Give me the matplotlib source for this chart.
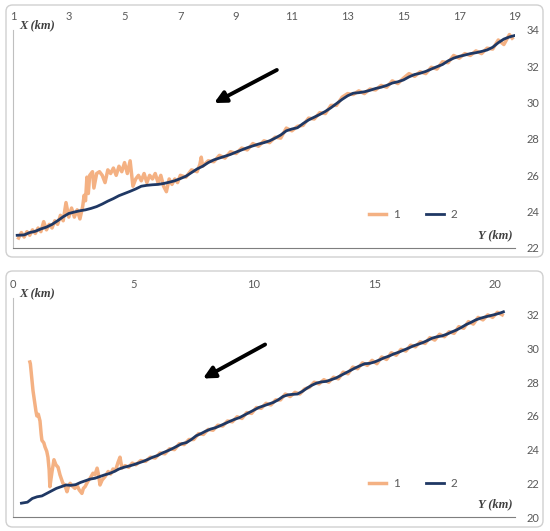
"""
Two track plots: estimated position (1) vs reference track (2)
"""
import matplotlib
matplotlib.use("Agg")
import matplotlib.pyplot as plt
from matplotlib.patches import FancyBboxPatch

# ---- top panel data (Y km, X km) ----
top_y2 = [1.15, 1.4, 1.6, 1.8, 2.0, 2.2, 2.4, 2.6, 2.8, 3.0, 3.2, 3.4, 3.6, 3.8, 4.0, 4.2, 4.4, 4.6, 4.8, 5.0,
          5.2, 5.4, 5.6, 5.8, 6.0, 6.2, 6.4, 6.6, 6.8, 7.0, 7.2, 7.4, 7.6, 7.8, 8.0, 8.2, 8.4, 8.6, 8.8, 9.0,
          9.2, 9.4, 9.6, 9.8, 10.0, 10.2, 10.4, 10.6, 10.8, 11.0, 11.2, 11.4, 11.6, 11.8, 12.0, 12.2, 12.4,
          12.6, 12.8, 13.0, 13.2, 13.4, 13.6, 13.8, 14.0, 14.2, 14.4, 14.6, 14.8, 15.0, 15.2, 15.4, 15.6,
          15.8, 16.0, 16.2, 16.4, 16.6, 16.8, 17.0, 17.2, 17.4, 17.6, 17.8, 18.0, 18.2, 18.4, 18.6, 18.8, 19.0]
top_x2 = [22.70, 22.72, 22.85, 22.92, 23.05, 23.15, 23.30, 23.50, 23.72, 23.90, 23.98, 24.05, 24.10, 24.18,
          24.28, 24.42, 24.58, 24.72, 24.88, 25.00, 25.12, 25.25, 25.40, 25.45, 25.48, 25.50, 25.55, 25.62,
          25.70, 25.82, 25.95, 26.15, 26.35, 26.50, 26.70, 26.85, 26.95, 27.05, 27.15, 27.28, 27.40, 27.52,
          27.62, 27.72, 27.80, 27.90, 28.05, 28.22, 28.45, 28.55, 28.62, 28.85, 29.05, 29.20, 29.35, 29.52,
          29.72, 29.95, 30.18, 30.38, 30.52, 30.55, 30.60, 30.68, 30.78, 30.85, 30.95, 31.08, 31.15, 31.25,
          31.42, 31.55, 31.62, 31.72, 31.85, 31.98, 32.10, 32.30, 32.45, 32.55, 32.62, 32.70, 32.75, 32.82,
          32.90, 33.05, 33.30, 33.50, 33.62, 33.70]

top_y1 = [1.2, 1.3, 1.4, 1.5, 1.6, 1.7, 1.8, 1.9, 2.0, 2.1, 2.2, 2.3, 2.4, 2.5, 2.6, 2.7, 2.8, 2.9, 3.0, 3.1,
          3.2, 3.3, 3.4, 3.5, 3.55, 3.6, 3.65, 3.7, 3.75, 3.85, 3.9, 4.0, 4.1, 4.2, 4.3, 4.4, 4.5, 4.6, 4.7,
          4.8, 4.9, 5.0, 5.1, 5.2, 5.3, 5.4, 5.5, 5.6, 5.7, 5.8, 5.9, 6.0, 6.1, 6.2, 6.3, 6.4, 6.5, 6.6, 6.7,
          6.8, 6.9, 7.0, 7.2, 7.4, 7.6, 7.7, 7.75, 7.8, 8.0, 8.2, 8.4, 8.6, 8.8, 9.0, 9.2, 9.4, 9.6, 9.8,
          10.0, 10.2, 10.4, 10.6, 10.8, 11.0, 11.2, 11.4, 11.6, 11.8, 12.0, 12.2, 12.4, 12.6, 12.8, 13.0,
          13.2, 13.4, 13.6, 13.8, 14.0, 14.2, 14.4, 14.6, 14.8, 15.0, 15.2, 15.4, 15.6, 15.8, 16.0, 16.2,
          16.4, 16.6, 16.8, 17.0, 17.2, 17.4, 17.6, 17.8, 18.0, 18.2, 18.4, 18.6, 18.8, 18.9]
top_x1 = [22.55, 22.85, 22.6, 22.9, 22.7, 23.0, 22.8, 23.1, 22.9, 23.45, 23.0, 23.3, 23.1, 23.5, 23.3, 23.8,
          23.5, 24.5, 23.7, 24.2, 23.7, 24.1, 23.6, 24.3, 24.9, 24.6, 25.9, 25.0, 26.0, 26.2, 25.3, 26.1,
          26.2, 26.0, 25.6, 26.3, 26.1, 26.4, 26.0, 26.5, 26.2, 26.7, 26.1, 26.8, 25.4, 25.8, 26.0, 25.7,
          26.1, 25.6, 26.0, 25.8, 26.1, 25.6, 26.0, 25.4, 25.1, 25.8, 25.5, 25.8, 25.6, 26.0, 25.9, 26.3,
          26.2, 26.6, 27.0, 26.5, 26.8, 26.75, 27.1, 26.95, 27.3, 27.2, 27.5, 27.4, 27.75, 27.6, 27.9, 27.8,
          28.1, 28.05, 28.6, 28.45, 28.7, 28.75, 29.15, 29.1, 29.45, 29.4, 29.85, 29.85, 30.3, 30.5, 30.45,
          30.65, 30.5, 30.75, 30.7, 30.95, 30.85, 31.2, 31.05, 31.35, 31.6, 31.45, 31.7, 31.6, 31.95, 31.85,
          32.25, 32.2, 32.6, 32.45, 32.7, 32.6, 32.85, 32.7, 33.0, 32.95, 33.45, 33.2, 33.75, 33.55]

# ---- bottom panel data ----
bot_y2 = [0.35, 0.6, 0.8, 1.0, 1.2, 1.4, 1.6, 1.8, 2.0, 2.2, 2.4, 2.6, 2.8, 3.0, 3.2, 3.4, 3.6, 3.8, 4.0, 4.2,
          4.4, 4.6, 4.8, 5.0, 5.2, 5.4, 5.6, 5.8, 6.0, 6.2, 6.4, 6.6, 6.8, 7.0, 7.2, 7.4, 7.6, 7.8, 8.0, 8.2,
          8.4, 8.6, 8.8, 9.0, 9.2, 9.4, 9.6, 9.8, 10.0, 10.2, 10.4, 10.6, 10.8, 11.0, 11.2, 11.4, 11.6, 11.8,
          12.0, 12.2, 12.4, 12.6, 12.8, 13.0, 13.2, 13.4, 13.6, 13.8, 14.0, 14.2, 14.4, 14.6, 14.8, 15.0,
          15.2, 15.4, 15.6, 15.8, 16.0, 16.2, 16.4, 16.6, 16.8, 17.0, 17.2, 17.4, 17.6, 17.8, 18.0, 18.2,
          18.4, 18.6, 18.8, 19.0, 19.2, 19.4, 19.6, 19.8, 20.0, 20.2, 20.35]
bot_x2 = [20.82, 20.88, 21.1, 21.2, 21.25, 21.4, 21.55, 21.7, 21.8, 21.9, 21.88, 21.92, 22.05, 22.15, 22.25,
          22.3, 22.4, 22.5, 22.58, 22.7, 22.85, 22.95, 23.02, 23.1, 23.2, 23.3, 23.42, 23.55, 23.65, 23.8,
          23.92, 24.05, 24.2, 24.35, 24.42, 24.6, 24.82, 24.95, 25.1, 25.22, 25.3, 25.42, 25.55, 25.68, 25.8,
          25.9, 26.05, 26.2, 26.35, 26.5, 26.6, 26.7, 26.8, 26.95, 27.15, 27.25, 27.28, 27.3, 27.45, 27.65,
          27.82, 27.95, 28.02, 28.05, 28.15, 28.25, 28.4, 28.55, 28.7, 28.85, 28.98, 29.1, 29.12, 29.2, 29.32,
          29.45, 29.55, 29.68, 29.78, 29.9, 30.02, 30.15, 30.25, 30.35, 30.48, 30.62, 30.7, 30.75, 30.85,
          30.98, 31.1, 31.25, 31.42, 31.55, 31.7, 31.8, 31.88, 31.95, 32.02, 32.1, 32.18]

bot_y1 = [0.7, 0.72, 0.78, 0.83, 0.9, 0.95, 0.99, 1.05, 1.12, 1.17, 1.2, 1.28, 1.33, 1.4, 1.45, 1.5, 1.53,
          1.58, 1.62, 1.7, 1.78, 1.87, 1.95, 2.07, 2.15, 2.24, 2.3, 2.37, 2.45, 2.57, 2.65, 2.75, 2.86, 2.92,
          2.99, 3.1, 3.2, 3.32, 3.4, 3.49, 3.55, 3.61, 3.7, 3.82, 3.95, 4.05, 4.15, 4.25, 4.36, 4.44, 4.52,
          4.65, 4.8, 4.95, 5.1, 5.3, 5.5, 5.7, 5.9, 6.1, 6.3, 6.5, 6.7, 6.9, 7.1, 7.3, 7.5, 7.7, 7.9, 8.1,
          8.3, 8.5, 8.7, 8.9, 9.1, 9.3, 9.5, 9.7, 9.9, 10.1, 10.3, 10.5, 10.7, 10.9, 11.1, 11.3, 11.5, 11.7,
          11.9, 12.1, 12.3, 12.5, 12.7, 12.9, 13.1, 13.3, 13.5, 13.7, 13.9, 14.1, 14.3, 14.5, 14.7, 14.9,
          15.1, 15.3, 15.5, 15.7, 15.9, 16.1, 16.3, 16.5, 16.7, 16.9, 17.1, 17.3, 17.5, 17.7, 17.9, 18.1,
          18.3, 18.5, 18.7, 18.9, 19.1, 19.3, 19.5, 19.7, 19.9, 20.1, 20.3]
bot_x1 = [29.2, 29.1, 28.2, 27.5, 26.8, 26.3, 26.0, 26.1, 25.7, 24.9, 24.55, 24.4, 24.15, 23.9, 23.55, 22.8,
          21.8, 22.3, 22.7, 23.4, 23.1, 22.95, 22.5, 22.0, 21.9, 21.5, 21.8, 22.0, 21.85, 21.7, 21.9, 21.6,
          21.4, 21.7, 21.8, 22.1, 22.3, 22.6, 22.5, 22.9, 22.5, 21.9, 22.2, 22.4, 22.7, 22.55, 22.85, 22.75,
          23.25, 23.55, 22.9, 23.05, 22.95, 23.2, 23.1, 23.35, 23.3, 23.55, 23.5, 23.8, 23.75, 24.05, 24.0,
          24.35, 24.3, 24.6, 24.6, 24.95, 24.9, 25.2, 25.15, 25.45, 25.4, 25.7, 25.65, 25.95, 25.85, 26.2,
          26.15, 26.5, 26.45, 26.75, 26.65, 26.95, 26.95, 27.3, 27.15, 27.4, 27.3, 27.6, 27.7, 28.0, 27.9,
          28.15, 28.0, 28.3, 28.2, 28.6, 28.5, 28.9, 28.8, 29.15, 29.0, 29.3, 29.1, 29.5, 29.35, 29.75, 29.6,
          29.95, 29.85, 30.2, 30.1, 30.4, 30.3, 30.65, 30.5, 30.85, 30.7, 31.0, 30.9, 31.3, 31.2, 31.6, 31.45,
          31.85, 31.7, 32.0, 31.85, 32.15, 32.0]

top_xticks = [1, 3, 5, 7, 9, 11, 13, 15, 17, 19]
top_yticks = [22, 24, 26, 28, 30, 32, 34]
bot_xticks = [0, 5, 10, 15, 20]
bot_yticks = [20, 22, 24, 26, 28, 30, 32]

c_orange = "#f4b183"
c_navy = "#1f3864"
c_tick = "#595959"

W, H = 550, 531
fig = plt.figure(figsize=(W / 100, H / 100), dpi=100)

# rounded frames around each panel
for y0, y1 in [(5, 257), (271, 527)]:
    fig.patches.append(FancyBboxPatch(
        (6 / W, 1 - y1 / H), 537 / W, (y1 - y0) / H,
        boxstyle="round,pad=0,rounding_size=0.012",
        transform=fig.transFigure, facecolor="none", edgecolor="#d0d0d0", lw=1.0, zorder=-1))


def track_panel(rect, y1, x1, y2, x2, xlim, ylim, xticks, yticks, arrow_from, arrow_to):
    ax = fig.add_axes(rect)
    ax.set_facecolor("none")
    ax.plot(y1, x1, color=c_orange, lw=2.5, solid_joinstyle="round", label="1")
    ax.plot(y2, x2, color=c_navy, lw=2.0, solid_joinstyle="round", label="2")
    ax.set_xlim(*xlim)
    ax.set_ylim(*ylim)
    ax.set_xticks(xticks)
    ax.set_yticks(yticks)
    ax.xaxis.tick_top()
    ax.yaxis.tick_right()
    ax.tick_params(axis="x", length=0, pad=6, labelsize=8, labelcolor=c_tick)
    ax.tick_params(axis="y", length=0, pad=8, labelsize=8, labelcolor=c_tick)
    for lab in ax.get_xticklabels() + ax.get_yticklabels():
        lab.set_family("Lato")
    ax.spines["top"].set_visible(False)
    ax.spines["right"].set_visible(False)
    ax.spines["left"].set_color("#bfbfbf")
    ax.spines["bottom"].set_color("#7f7f7f")
    ax.text(0.012, 1.05, "X (km)", transform=ax.transAxes, family="Liberation Serif",
            style="italic", weight="bold", fontsize=9, color="#404040", va="top", ha="left")
    ax.text(0.995, 0.03, "Y (km)", transform=ax.transAxes, family="Liberation Serif",
            style="italic", weight="bold", fontsize=9, color="#404040", va="bottom", ha="right")
    ax.annotate("", xy=arrow_to, xytext=arrow_from,
                arrowprops=dict(arrowstyle="-|>,head_length=0.7,head_width=0.35", lw=2.8,
                                color="black", shrinkA=0, shrinkB=0))
    leg = ax.legend(loc="center", bbox_to_anchor=(0.797, 0.152), ncol=2, frameon=False,
                    handlelength=1.5, handletextpad=0.6, columnspacing=2.2,
                    prop={"family": "Lato", "size": 8.5})
    for t in leg.get_texts():
        t.set_color(c_tick)
    return ax


track_panel([13 / W, 1 - 248 / H, 502 / W, 218 / H], top_y1, top_x1, top_y2, top_x2,
            (1, 19), (22, 34), top_xticks, top_yticks, (10.46, 31.8), (8.21, 29.98))
track_panel([13 / W, 1 - 517 / H, 502 / W, 219 / H], bot_y1, bot_x1, bot_y2, bot_x2,
            (0, 20.83), (20, 33), bot_xticks, bot_yticks, (10.46, 30.24), (7.88, 28.22))

fig.savefig("out.png", dpi=100)
